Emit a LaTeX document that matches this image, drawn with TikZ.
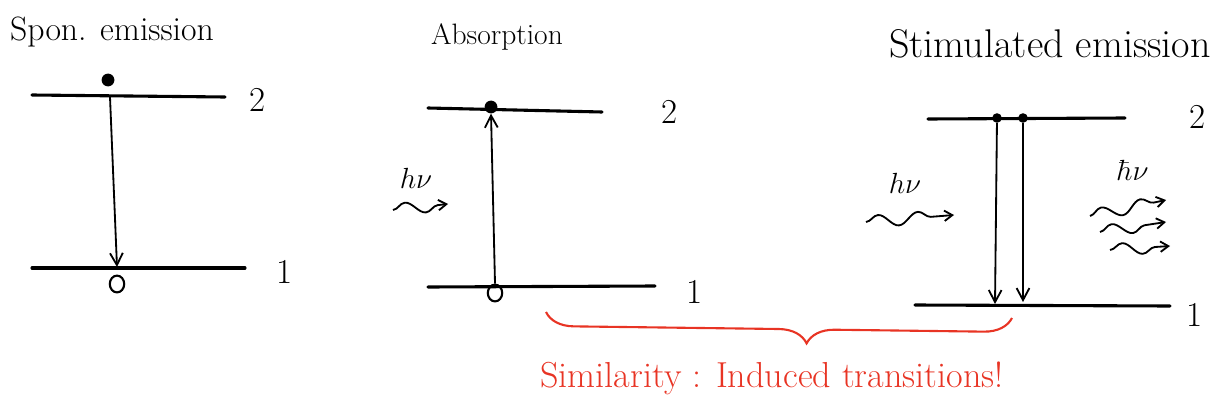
\documentclass[tikz,border=0pt]{standalone}
\usepackage{fontspec}
\usepackage{tikz}
\usetikzlibrary{arrows.meta,positioning,shapes.geometric,decorations.pathreplacing,decorations.pathmorphing}
\definecolor{inkred}{RGB}{232,52,36}

\begin{document}
\begin{tikzpicture}[
  x=0.025cm, y=-0.025cm,
  levelline/.style={line width=2.2pt, line cap=round},
  trans/.style={-{Straight Barb[length=3mm,width=3.2mm]}, line width=1.3pt},
  atomup/.style={circle, fill=black, inner sep=0pt, minimum size=3.2mm},
  atomhole/.style={ellipse, draw, line width=1.5pt, inner sep=0pt, minimum width=3.6mm, minimum height=4.2mm},
  title/.style={font=\fontsize{24}{26}\selectfont},
  lvlabel/.style={font=\Huge},
  hvlabel/.style={font=\huge},
  photon/.style={-{Straight Barb[length=2mm,width=2.6mm]}, line width=1.3pt, decorate,
    decoration={snake, amplitude=1.5mm, segment length=10mm, post length=2.5mm}},
  brace/.style={inkred, line width=1.5pt, decorate,
    decoration={brace, mirror, amplitude=7mm, aspect=0.56}}
]
  \useasboundingbox (0,0) rectangle (1220,407);

  % Spontaneous emission (left)
  \node[title] (spon) at (112,32) {Spon. emission};
  \coordinate (sa2) at (32,95);
  \coordinate (sb2) at (225,97);
  \coordinate (sa1) at (32,268);
  \coordinate (sb1) at (245,268);
  \draw[levelline] (sa2) -- (sb2);
  \draw[levelline] (sa1) -- (sb1);
  \node[lvlabel] (slab2) at (258,100) {2};
  \node[lvlabel] (slab1) at (285,272) {1};
  \node[atomup] (sdot) at (108,80) {};
  \node[atomhole] (shole) at (117,284) {};
  \coordinate (sfrom) at (110,97);
  \coordinate (sto) at (117,267);
  \draw[trans] (sfrom) -- (sto);

  % Absorption (centre)
  \node[title, font=\fontsize{21}{23}\selectfont] (abs) at (497,37) {Absorption};
  \coordinate (aa2) at (428,108);
  \coordinate (ab2) at (602,112);
  \coordinate (aa1) at (428,287);
  \coordinate (ab1) at (655,286);
  \draw[levelline] (aa2) -- (ab2);
  \draw[levelline] (aa1) -- (ab1);
  \node[lvlabel] (alab2) at (670,112) {2};
  \node[lvlabel] (alab1) at (695,292) {1};
  \node[atomup] (adot) at (491,107) {};
  \node[atomhole] (ahole) at (495,293) {};
  \draw[trans] (ahole.north) -- (adot.south);
  \node[hvlabel] (ahv) at (416,178) {$h\nu$};
  \coordinate (ain) at (393,210);
  \coordinate (aout) at (448,204);
  \draw[photon] (ain) -- (aout);

  % Stimulated emission (right)
  \node[title, font=\fontsize{28.5}{30}\selectfont] (stim) at (1050,44) {Stimulated emission};
  \coordinate (ta2) at (928,119);
  \coordinate (tb2) at (1125,118);
  \coordinate (ta1) at (915,305);
  \coordinate (tb1) at (1170,306);
  \draw[levelline] (ta2) -- (tb2);
  \draw[levelline] (ta1) -- (tb1);
  \node[lvlabel] (tlab2) at (1198,117) {2};
  \node[lvlabel] (tlab1) at (1195,315) {1};
  \node[atomup, minimum size=2.4mm] (tdotl) at (997,118) {};
  \node[atomup, minimum size=2.4mm] (tdotr) at (1023,118) {};
  \coordinate (tendl) at (995,304);
  \coordinate (tendr) at (1023,302);
  \draw[trans] (tdotl) -- (tendl);
  \draw[trans] (tdotr) -- (tendr);
  \node[hvlabel] (thv) at (905,183) {$h\nu$};
  \coordinate (tin) at (866,222);
  \coordinate (tout) at (954,215);
  \draw[photon] (tin) -- (tout);
  \node[hvlabel] (thbar) at (1133,170) {$\hbar\nu$};
  \coordinate (ea) at (1090,216);
  \coordinate (eb) at (1166,200);
  \coordinate (fa) at (1100,232);
  \coordinate (fb) at (1166,222);
  \coordinate (ga) at (1110,250);
  \coordinate (gb) at (1170,246);
  \draw[photon] (ea) -- (eb);
  \draw[photon] (fa) -- (fb);
  \draw[photon] (ga) -- (gb);

  % Induced transitions brace
  \coordinate (bl) at (546,312);
  \coordinate (br) at (1012,318);
  \draw[brace] (bl) -- (br);
  \node[inkred, font=\fontsize{25.7}{27}\selectfont] (note) at (772,378) {Similarity : Induced transitions!};
\end{tikzpicture}
\end{document}
